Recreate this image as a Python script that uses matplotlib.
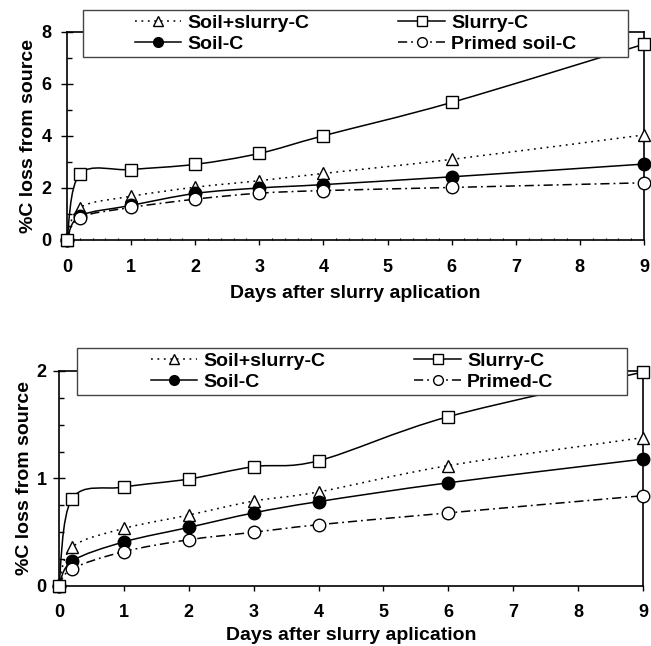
import matplotlib
matplotlib.use("Agg")
import matplotlib.pyplot as plt
from matplotlib.path import Path
from matplotlib.patches import PathPatch, Rectangle
from matplotlib.lines import Line2D
from matplotlib.ticker import MultipleLocator
import numpy as np

plt.rcParams['font.family'] = ['Liberation Sans', 'DejaVu Sans']
plt.rcParams['font.weight'] = 'bold'

days = [0, 0.2, 1, 2, 3, 4, 6, 9]

# Top panel
top_soil_slurry = [0, 1.24, 1.68, 2.03, 2.28, 2.56, 3.10, 4.04]
top_slurry = [0, 2.53, 2.71, 2.91, 3.33, 4.01, 5.29, 7.53]
top_soil = [0, 0.92, 1.33, 1.79, 2.00, 2.13, 2.43, 2.92]
top_primed = [0, 0.86, 1.25, 1.57, 1.80, 1.90, 2.02, 2.20]
top_labels = ["Soil+slurry-C", "Slurry-C", "Soil-C", "Primed soil-C"]

# Bottom panel
bot_soil_slurry = [0, 0.36, 0.535, 0.66, 0.79, 0.875, 1.12, 1.38]
bot_slurry = [0, 0.81, 0.92, 0.995, 1.11, 1.165, 1.575, 1.99]
bot_soil = [0, 0.23, 0.41, 0.545, 0.68, 0.785, 0.96, 1.18]
bot_primed = [0, 0.16, 0.32, 0.43, 0.50, 0.57, 0.68, 0.84]
bot_labels = ["Soil+slurry-C", "Slurry-C", "Soil-C", "Primed-C"]

xlabel = "Days after slurry aplication"
ylabel = "%C loss from source"

DOT = (0, (1.2, 3.0))
DASHDOT = (0, (6, 2.6, 1.2, 2.6))


def smooth_path(x, y):
    p = np.column_stack([x, y]).astype(float)
    n = len(p)
    ext = np.vstack([p[0], p, p[-1]])
    verts = [p[0]]
    codes = [Path.MOVETO]
    for i in range(n - 1):
        pm1, p0, p1, p2 = ext[i], ext[i + 1], ext[i + 2], ext[i + 3]
        c1 = p0 + (p1 - pm1) / 6.0
        c2 = p1 - (p2 - p0) / 6.0
        verts += [c1, c2, p1]
        codes += [Path.CURVE4] * 3
    return Path(verts, codes)


def draw_panel(ax, series, labels, ymax, ymajor, yminor, xminor, legbox,
               ytickpad, xtickpad, xlab_y, ylab_x):
    order = [0, 2, 3, 1]
    for idx in order:
        vals, marker, mfc, ls = series[idx]
        patch = PathPatch(smooth_path(days, vals), fill=False, edgecolor='black',
                          lw=1.1, linestyle=ls, zorder=2, clip_on=False)
        ax.add_patch(patch)
        ax.plot(days, vals, linestyle='none', marker=marker, markersize=9,
                markerfacecolor=mfc, markeredgecolor='black', markeredgewidth=1.0,
                zorder=3, clip_on=False)
    ax.set_xlim(0, 9)
    ax.set_ylim(0, ymax)
    ax.set_xticks(range(0, 10))
    ax.yaxis.set_major_locator(MultipleLocator(ymajor))
    ax.yaxis.set_minor_locator(MultipleLocator(yminor))
    if xminor:
        ax.xaxis.set_minor_locator(MultipleLocator(xminor))
        ax.tick_params(axis='x', which='minor', direction='in', length=1.5, width=0.8)
    ax.tick_params(axis='y', which='major', direction='inout', length=8, width=1.0,
                   labelsize=13, pad=ytickpad)
    ax.tick_params(axis='y', which='minor', direction='in', length=3.8, width=1.0)
    ax.tick_params(axis='x', which='major', direction='out', length=3.8, width=1.0,
                   labelsize=13, pad=xtickpad)
    for sp in ax.spines.values():
        sp.set_linewidth(1.2)
    ax.set_xlabel(xlabel, fontsize=14, fontweight='bold')
    ax.set_ylabel(ylabel, fontsize=14, fontweight='bold')
    ax.xaxis.set_label_coords(0.5, xlab_y)
    ax.yaxis.set_label_coords(ylab_x, 0.5)

    x0, y0, x1, y1 = legbox
    rect = Rectangle((x0, y0), x1 - x0, y1 - y0, transform=ax.transAxes,
                     facecolor='white', edgecolor='#444444', lw=1.0,
                     zorder=4, clip_on=False)
    ax.add_patch(rect)
    handles = []
    for vals, marker, mfc, ls in series:
        handles.append(Line2D([], [], color='black', lw=1.1, linestyle=ls, marker=marker,
                              markersize=7, markerfacecolor=mfc, markeredgecolor='black',
                              markeredgewidth=1.0))
    h = [handles[0], handles[2], handles[1], handles[3]]
    l = [labels[0], labels[2], labels[1], labels[3]]
    leg = ax.legend(h, l, ncol=2, loc='center',
                    bbox_to_anchor=((x0 + x1) / 2, (y0 + y1) / 2),
                    frameon=False, fontsize=14, handlelength=2.4, handletextpad=0.3,
                    columnspacing=4.6, labelspacing=0.15, borderpad=0.2)
    leg.set_zorder(5)
    for t in leg.get_texts():
        t.set_fontweight('bold')


fig = plt.figure(figsize=(6.51, 6.46), dpi=100)
ax1 = fig.add_axes([0.1029, 0.6285, 0.8863, 0.322])
ax2 = fig.add_axes([0.0906, 0.0929, 0.8970, 0.3328])

top_series = [
    (top_soil_slurry, '^', 'white', DOT),
    (top_slurry, 's', 'white', '-'),
    (top_soil, 'o', 'black', '-'),
    (top_primed, 'o', 'white', DASHDOT),
]
bot_series = [
    (bot_soil_slurry, '^', 'white', DOT),
    (bot_slurry, 's', 'white', '-'),
    (bot_soil, 'o', 'black', '-'),
    (bot_primed, 'o', 'white', DASHDOT),
]

draw_panel(ax1, top_series, top_labels, 8, 2, 1, 0.2,
           (0.0277, 0.88, 0.972, 1.106), 7, 10, -0.216, -0.052)
draw_panel(ax2, bot_series, bot_labels, 2, 1, 0.25, None,
           (0.0308, 0.888, 0.9726, 1.107), 5, 9.5, -0.19, -0.044)

fig.savefig("out.png", dpi=100)
